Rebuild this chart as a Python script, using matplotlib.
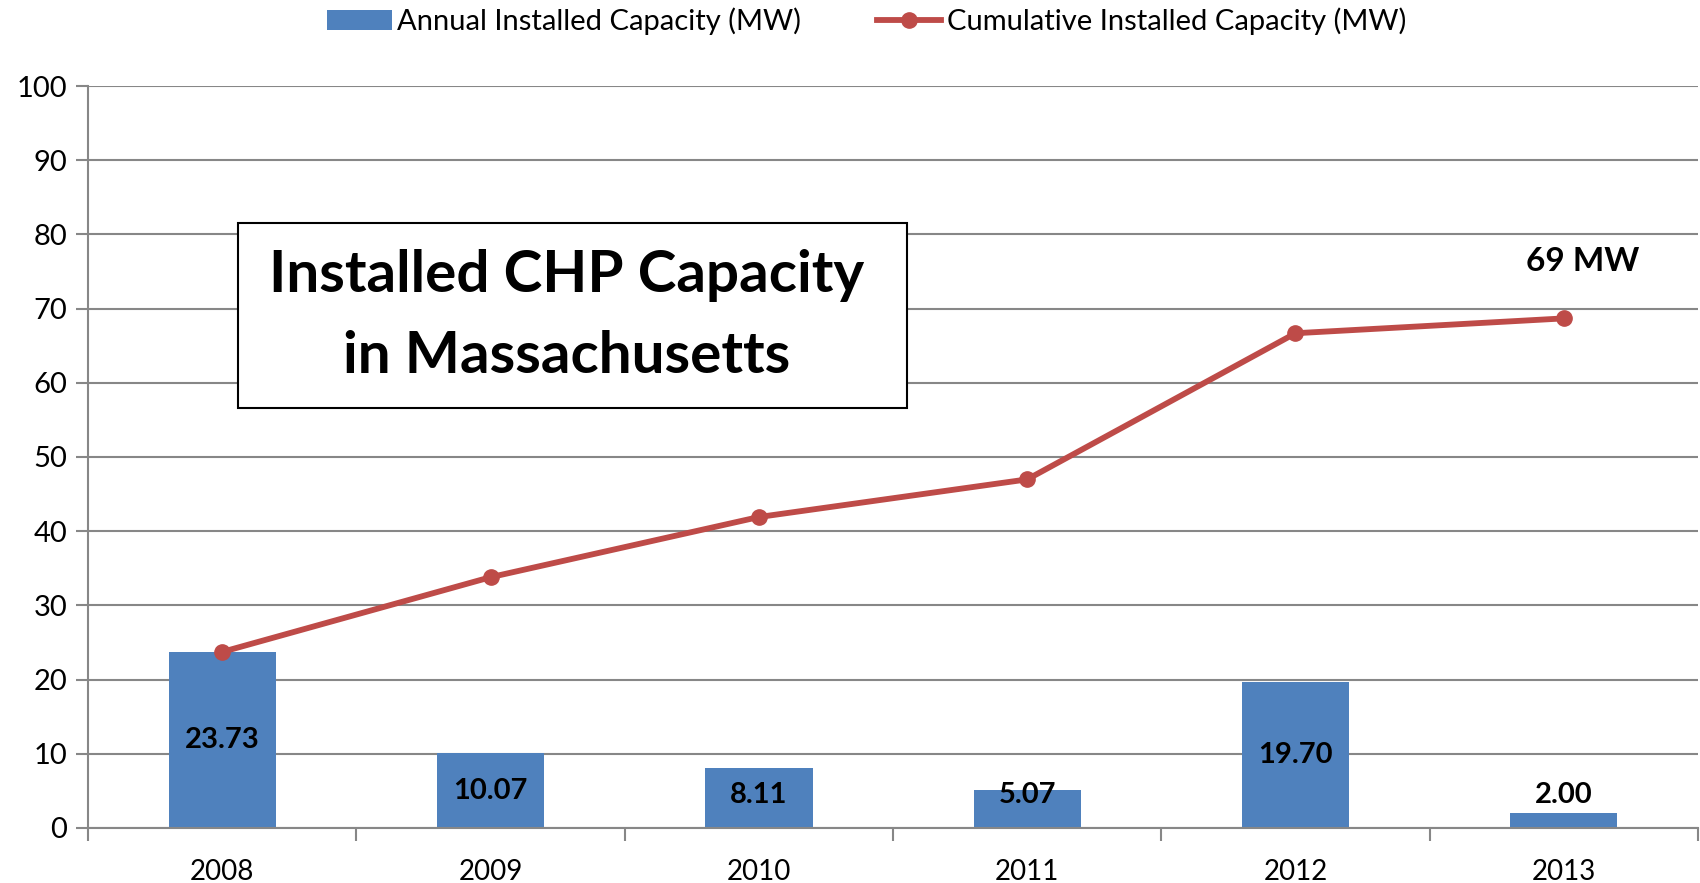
import numpy as np
import matplotlib
matplotlib.use('Agg')
import matplotlib.pyplot as plt
from matplotlib.patches import Rectangle
from matplotlib.lines import Line2D
from matplotlib.patches import Patch

years = ['2008', '2009', '2010', '2011', '2012', '2013']
annual = [23.73, 10.07, 8.11, 5.07, 19.70, 2.00]
cumulative = [23.73, 33.80, 41.91, 46.98, 66.68, 68.68]
bar_labels = ['23.73', '10.07', '8.11', '5.07', '19.70', '2.00']

plt.rcParams['font.family'] = ['Lato', 'DejaVu Sans']

bar_color = '#4F81BD'
line_color = '#BE4B48'
grid_color = '#878787'

fig = plt.figure(figsize=(17, 8.83), dpi=100)
ax = fig.add_axes([0.0518, 0.0623, 0.947, 0.8403])

x = np.arange(len(years))
ax.bar(x, annual, width=0.4, color=bar_color, zorder=2)
ax.plot(x, cumulative, color=line_color, lw=4.2, marker='o', ms=11, zorder=3)

for xi, v, lab in zip(x, annual, bar_labels):
    ax.text(xi, max(v / 2, 4.4), lab, ha='center', va='center',
            fontsize=21, fontweight='bold', color='black', zorder=4)

ax.text(5.07, 76.3, '69 MW', ha='center', va='center', fontsize=24,
        fontweight='bold', zorder=4)

ax.set_xlim(-0.5, 5.5)
ax.set_ylim(0, 100)
ax.set_yticks(np.arange(0, 101, 10))
ax.set_xticks(np.arange(-0.5, 5.6, 1.0))
ax.set_xticklabels([])
ax.set_xticks(x, minor=True)
ax.set_xticklabels(years, minor=True)
ax.tick_params(axis='x', which='minor', length=0, labelsize=20, pad=22)
ax.tick_params(axis='x', which='major', length=9, width=1.5, color=grid_color)
ax.tick_params(axis='y', length=9, width=1.5, color=grid_color, labelsize=21, pad=6)
ax.yaxis.grid(True, color=grid_color, lw=1.5, zorder=0)
ax.set_axisbelow(True)
for s in ['top', 'right']:
    ax.spines[s].set_visible(False)
for s in ['left', 'bottom']:
    ax.spines[s].set_color(grid_color)
    ax.spines[s].set_linewidth(1.5)

# title box
ax.add_patch(Rectangle((0.093, 0.566), 0.416, 0.249, transform=ax.transAxes,
                       facecolor='white', edgecolor='black', lw=1.5, zorder=5,
                       clip_on=False))
ax.text(0.297, 0.744, 'Installed CHP Capacity', transform=ax.transAxes,
        ha='center', va='center', fontsize=42, fontweight='bold', zorder=6)
ax.text(0.297, 0.636, 'in Massachusetts', transform=ax.transAxes,
        ha='center', va='center', fontsize=42, fontweight='bold', zorder=6)

handles = [Patch(facecolor=bar_color),
           Line2D([0], [0], color=line_color, lw=4.2, marker='o', ms=11)]
fig.legend(handles, ['Annual Installed Capacity (MW)', 'Cumulative Installed Capacity (MW)'],
           loc='center', bbox_to_anchor=(0.51, 0.976), ncol=2, frameon=False,
           fontsize=21, handlelength=2.2, handletextpad=0.2, columnspacing=2.6)

fig.savefig('out.png', dpi=100)
